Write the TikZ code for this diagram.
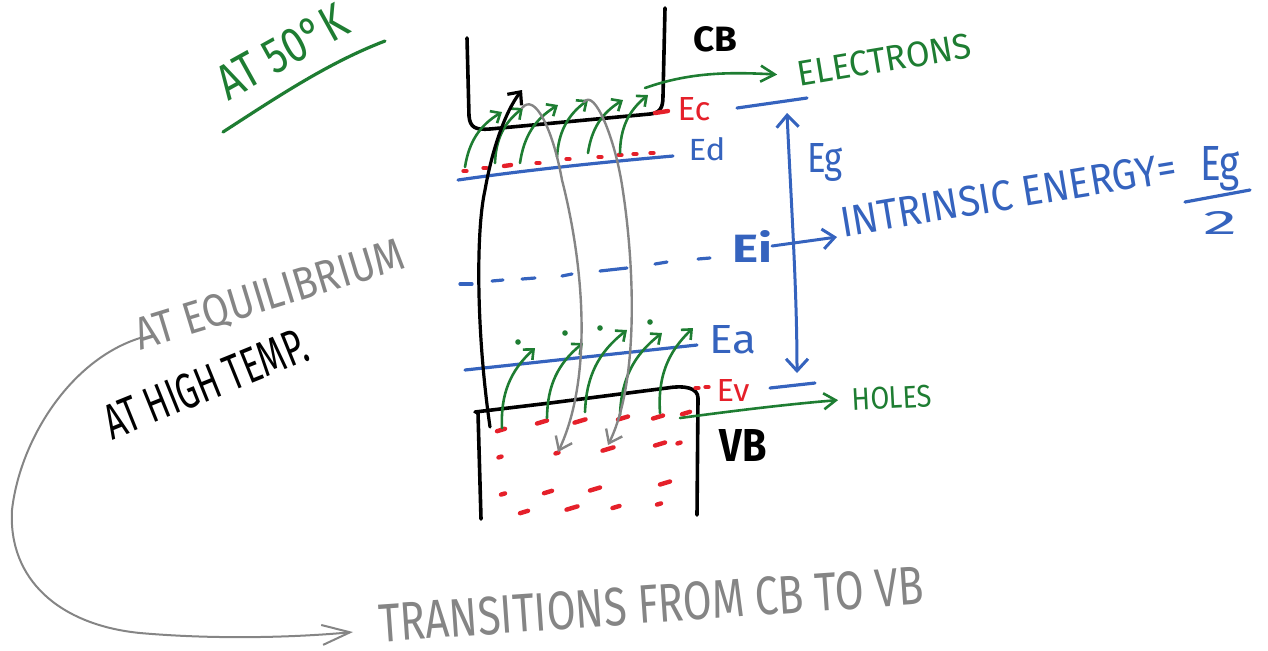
\documentclass[tikz,border=0pt]{standalone}
\usepackage{fontspec}
\setmainfont{Fira Sans}
\usepackage{graphicx}
\usetikzlibrary{arrows.meta}
\definecolor{pgreen}{HTML}{1E7D32}
\definecolor{pblue}{HTML}{3563BE}
\definecolor{pred}{HTML}{E5202A}
\definecolor{pgray}{HTML}{858585}
\newcommand{\hwtext}[3]{\resizebox{#1pt}{#2pt}{#3}}
\tikzset{
  pen/.style={line cap=round, line join=round},
  bandline/.style={pen, draw=black, line width=1.8pt},
  blueline/.style={pen, draw=pblue, line width=1.6pt},
  reddash/.style={pen, draw=pred, line width=2.2pt},
  garrow/.style={pen, draw=pgreen, line width=1.3pt, -{Straight Barb[length=4pt,width=7pt]}},
  graytrans/.style={pen, draw=pgray, line width=1.2pt, -{Straight Barb[length=6pt,width=9pt]}},
  barrow/.style={pen, draw=pblue, line width=1.5pt, -{Straight Barb[length=6pt,width=10pt]}},
  txt/.style={inner sep=0pt, outer sep=0pt},
}
\begin{document}
\begin{tikzpicture}[x=0.5pt,y=-0.5pt]
\useasboundingbox (0,0) rectangle (1268,650);

% ---------- conduction band ----------
\draw[bandline] (467,38) -- (469,116) .. controls (470,128) and (476,130) .. (490,129) -- (650,114) .. controls (660,113) and (663,108) .. (663,96) -- (665,8);
% ---------- valence band ----------
\draw[bandline] (478,413) -- (481,519);
\draw[bandline] (475,412) -- (550,403) -- (667,388) .. controls (685,385) and (698,388) .. (698,398) -- (697,515);

% ---------- level lines ----------
\draw[reddash] (655,113) -- (668,111);
\draw[blueline] (458,180) .. controls (500,174) and (560,166) .. (673,156);
\draw[blueline] (465,370) -- (697,345);
\foreach \a/\b/\c/\d in {460/284/472/284, 492/281/503/280, 522/279/535/278, 562/276/572/274, 600/271/627/268, 655/264/667/262, 698/259/710/258}
  \draw[blueline] (\a,\b) -- (\c,\d);
\coordinate (ectop) at (787,113);
\coordinate (evbot) at (797,373);
\draw[blueline] (737,108) -- (807,98);
\draw[blueline] (770,388) -- (815,383);

% ---------- red donor dots near Ed ----------
\foreach \x/\y in {465/171, 485/168, 538/163, 568/159, 600/157, 620/155, 635/154, 652/153, 697/388, 707/387}
  \draw[reddash] (\x-1.5,\y) -- (\x+1.5,\y);
\draw[reddash] (504,166) -- (511,165);

% ---------- red dashes in VB ----------
\foreach \x/\y/\l in {501/430/8, 542/422/10, 580/421/11, 623/418/10, 658/417/10, 686/413/8,
  500/457/3, 557/453/3, 608/449/11, 660/444/10, 679/443/3,
  503/494/4, 548/492/8, 595/489/10, 665/483/10,
  524/512/8, 572/508/11, 616/507/7, 659/504/4}
  \draw[reddash] ({\x-\l/2},{\y+0.15*\l}) -- ({\x+\l/2},{\y-0.15*\l});

% ---------- green acceptor dots ----------
\foreach \x/\y in {518/342, 565/333, 600/328, 650/322}
  \fill[pgreen] (\x,\y) circle (1.4pt);

% ---------- green transitions Ed -> CB ----------
\foreach \a/\b/\c/\d in {465/167/502/112, 495/163/523/108, 520/163/558/105, 557/157/588/100, 588/153/623/100, 620/153/648/95}
  \draw[garrow] (\a,\b) to[bend left=25] (\c,\d);
% ---------- green transitions VB -> Ea ----------
\foreach \a/\b/\c/\d in {502/428/535/348, 547/418/583/343, 585/412/627/330, 620/415/662/333, 660/413/693/328}
  \draw[garrow] (\a,\b) to[bend left=25] (\c,\d);

% ---------- black transition VB -> CB ----------
\draw[pen, line width=1.6pt, -{Straight Barb[length=5pt,width=9pt]}] (490,427) .. controls (476,330) and (476,230) .. (485,190) .. controls (492,150) and (505,112) .. (522,90);

% ---------- gray transitions CB -> VB ----------
\draw[graytrans] (522,108) .. controls (535,92) and (553,130) .. (562,180) .. controls (585,270) and (592,380) .. (558,452);
\draw[graytrans] (584,102) .. controls (595,88) and (615,140) .. (622,185) .. controls (634,260) and (640,380) .. (608,445);

% ---------- labels of levels ----------
\node[txt, text=black] (cb) at (715,39) {\hwtext{22}{12.5}{\bfseries CB}};
\node[txt, text=pred] (ec) at (694,109) {\hwtext{16.5}{11.5}{Ec}};
\node[txt, text=pblue] (ed) at (707,149) {\hwtext{18.5}{11.5}{Ed}};
\node[txt, text=pblue] (ei) at (752,246) {\hwtext{20}{16}{\bfseries Ei}};
\node[txt, text=pblue] (ea) at (733,340) {\hwtext{23.5}{14}{Ea}};
\node[txt, text=pred] (ev) at (733,390) {\hwtext{16.5}{11}{Ev}};
\node[txt, text=black] (vb) at (743,445) {\hwtext{23.5}{16}{\bfseries VB}};

% ---------- gap ----------
\draw[pen, draw=pblue, line width=1.5pt, {Straight Barb[length=6pt,width=11pt]}-{Straight Barb[length=6pt,width=11pt]}] (ectop) .. controls (791,200) and (797,290) .. (evbot);
\node[txt, text=pblue, anchor=base] (eg) at (825,172) {\hwtext{18}{14.5}{Eg}};

% ---------- intrinsic energy ----------
\node[txt, text=pblue, anchor=base west, rotate=9.4] (intr) at (843,237) {\hwtext{170}{15}{INTRINSIC ENERGY=}};
\draw[barrow] (ei.east) -- ([xshift=-3pt]intr.base west);
\node[txt, text=pblue, anchor=base] (egnum) at (1220,180) {\hwtext{20}{17}{Eg}};
\draw[blueline] (1185,202) -- (1250,190);
\node[txt, text=pblue] (two) at (1220,223) {\hwtext{17}{11.5}{2}};

% ---------- electrons / holes ----------
\node[txt, text=pgreen, rotate=9.5] (elec) at (884,60) {\hwtext{88}{12.5}{ELECTRONS}};
\draw[pen, draw=pgreen, line width=1.3pt, -{Straight Barb[length=7pt,width=8pt]}] (645,88) .. controls (690,72) and (730,72) .. ([xshift=-10pt]elec.west);
\node[txt, text=pgreen, rotate=3] (holes) at (892,398) {\hwtext{40}{11}{HOLES}};
\draw[pen, draw=pgreen, line width=1.3pt, -{Straight Barb[length=6pt,width=8pt]}] (680,418) .. controls (740,410) and (790,404) .. ([xshift=-7pt]holes.west);

% ---------- left annotations ----------
\node[txt, text=pgreen, anchor=base west, rotate=29] (k50) at (228,101) {\hwtext{71}{17.5}{AT 50°K}};
\draw[pen, draw=pgreen, line width=1.6pt] (223,132) .. controls (280,95) and (330,62) .. (385,41);
\node[txt, text=pgray, anchor=base west, rotate=17] (equil) at (140,350) {\hwtext{140}{16}{AT EQUILIBRIUM}};
\node[txt, text=black, anchor=base west, rotate=22] (hight) at (112,440) {\hwtext{108}{17.5}{AT HIGH TEMP.}};
\node[txt, text=pgray, anchor=base west, rotate=4] (trans) at (380,642) {\hwtext{273}{19}{TRANSITIONS FROM CB TO VB}};
\draw[pen, draw=pgray, line width=1pt, -{Straight Barb[length=14pt,width=10pt]}] ([yshift=6pt]equil.base west) .. controls (70,360) and (20,440) .. (12,510) .. controls (8,580) and (60,625) .. (140,633) .. controls (220,640) and (300,637) .. ([xshift=-13.5pt,yshift=5pt]trans.base west);
\end{tikzpicture}
\end{document}
